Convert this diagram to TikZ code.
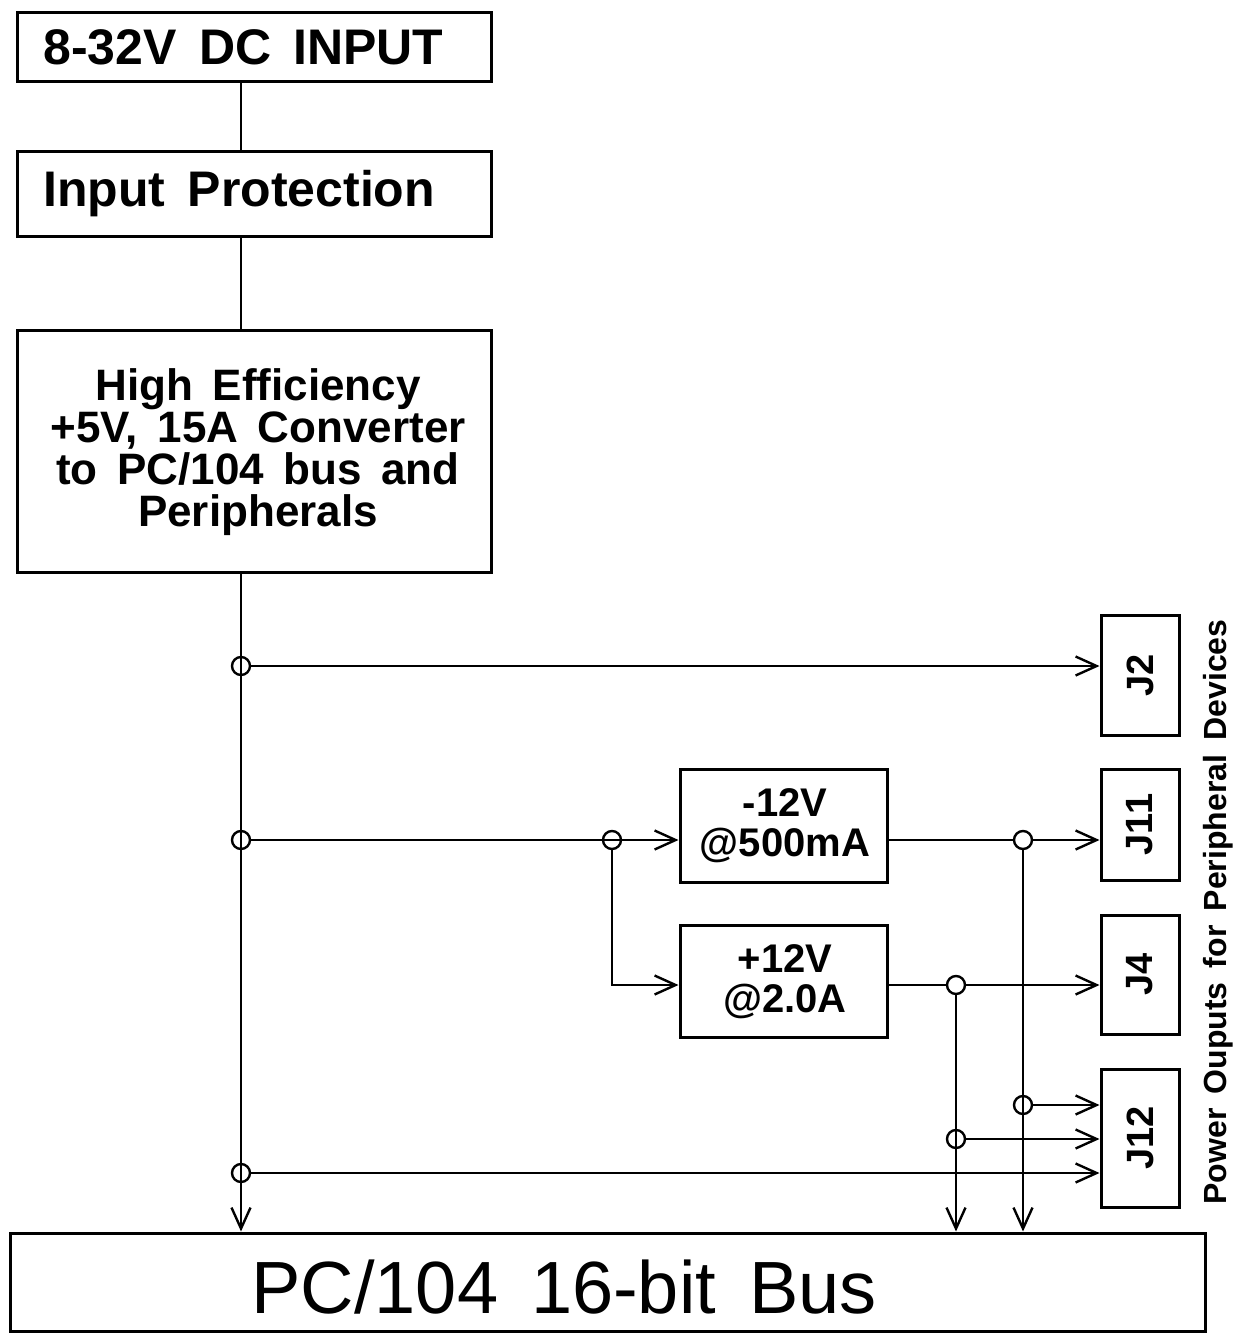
\documentclass[tikz,border=0pt]{standalone}
\usepackage{fontspec}
\setmainfont{Liberation Sans}
\usetikzlibrary{arrows.meta,calc}
\begin{document}
\begin{tikzpicture}[x=1pt,y=-1pt,
  line width=2.8pt,
  box/.style={draw,rectangle,inner sep=0pt,anchor=center,line width=3pt},
  jn/.style={draw,circle,minimum size=18pt,inner sep=0pt,line width=2.4pt},
  arr/.style={-{Straight Barb[length=21pt,width=19pt,line width=2.4pt]}},
  lbl/.style={font=\bfseries\fontsize{50}{55}\selectfont,inner sep=0pt},
  mid/.style={font=\bfseries\fontsize{42}{42}\selectfont,inner sep=0pt,align=center},
  jl/.style={font=\bfseries\fontsize{38}{38}\selectfont,inner sep=0pt,rotate=90}
]
\useasboundingbox (0,0) rectangle (1237,1333);
% boxes
\node[box,minimum width=474pt,minimum height=69pt] (in) at (254,46.5) {};
\node[box,minimum width=474pt,minimum height=85pt] (prot) at (254,193.5) {};
\node[box,minimum width=474pt,minimum height=242pt] (conv) at (254,451) {};
\node[box,minimum width=78pt,minimum height=120pt] (J2) at (1140,675) {};
\node[box,minimum width=78pt,minimum height=111pt] (J11) at (1140,824.5) {};
\node[box,minimum width=78pt,minimum height=119pt] (J4) at (1140,974.5) {};
\node[box,minimum width=78pt,minimum height=138pt] (J12) at (1140,1138) {};
\node[box,minimum width=207pt,minimum height=113pt] (m12) at (783.5,825.5) {};
\node[box,minimum width=207pt,minimum height=112pt] (p12) at (783.5,981) {};
\node[box,minimum width=1195pt,minimum height=98pt] (bus) at (607.5,1282) {};
% texts
\node[lbl,anchor=west] (t1) at (42,47) {8-32V\, DC\, INPUT};
\node[lbl,anchor=west] (t2) at (42,194) {Input\, Protection};
\node[mid,font=\bfseries\fontsize{44}{42}\selectfont] (t3) at (258,452) {High\, Efficiency\\+5V,\, 15A\, Converter\\to\, PC/104\, bus\, and\\Peripherals};
\node[mid,font=\bfseries\fontsize{40}{40}\selectfont] (t4) at (785,826) {-12V\\@500mA};
\node[mid,font=\bfseries\fontsize{40}{40}\selectfont] (t5) at (785,982) {+12V\\@2.0A};
\node[jl] (l2) at (J2) {J2};
\node[jl] (l11) at (J11) {J11};
\node[jl] (l4) at (J4) {J4};
\node[jl] (l12) at (J12) {J12};
\node[jl,font=\bfseries\fontsize{32}{32}\selectfont] (side) at (1218,912) {Power\, Ouputs\, for\, Peripheral\, Devices};
\node[inner sep=0pt,font=\fontsize{74}{74}\selectfont] (tb) at (564,1287) {PC/104\, 16-bit\, Bus};
% junctions
\node[jn] (jA) at (241,666) {};
\node[jn] (jB) at (241,840) {};
\node[jn] (jC) at (241,1173) {};
\node[jn] (jD) at (612,840) {};
\node[jn] (jE) at (1023,840) {};
\node[jn] (jF) at (956,985) {};
\node[jn] (jG) at (1023,1105) {};
\node[jn] (jH) at (956,1139) {};
% connectors
\draw (in.south -| jA) -- (prot.north -| jA);
\draw (prot.south -| jA) -- (conv.north -| jA);
\draw[arr] (conv.south -| jA) -- (bus.north -| jA);
\draw[arr] (jA) -- (jA -| J2.west);
\draw[arr] (jB) -- (jB -| m12.west);
\draw[arr] (jD.south) |- (jF -| p12.west);
\draw (jE -| m12.east) -- (jE);
\draw[arr] (jE) -- (jE -| J11.west);
\draw (jF -| p12.east) -- (jF);
\draw[arr] (jF) -- (jF -| J4.west);
\draw[arr] (jE.south) -- (jE |- bus.north);
\draw[arr] (jF.south) -- (jF |- bus.north);
\draw[arr] (jG) -- (jG -| J12.west);
\draw[arr] (jH) -- (jH -| J12.west);
\draw[arr] (jC) -- (jC -| J12.west);
\end{tikzpicture}
\end{document}
